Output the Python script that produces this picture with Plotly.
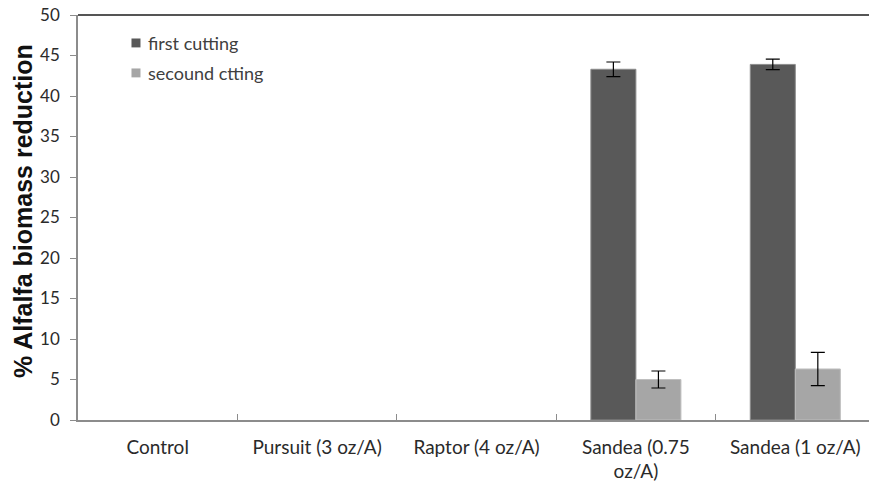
import plotly.graph_objects as go

categories = ["Control", "Pursuit (3 oz/A)", "Raptor (4 oz/A)", "Sandea (0.75<br>oz/A)", "Sandea (1 oz/A)"]
first_cutting = [None, None, None, 43.3, 43.9]
first_err = [0, 0, 0, 0.9, 0.65]
second_cutting = [None, None, None, 5.0, 6.3]
second_err = [0, 0, 0, 1.05, 2.05]
y_ticks = [0, 5, 10, 15, 20, 25, 30, 35, 40, 45, 50]
series_names = ["first cutting", "secound ctting"]
series_colors = ["#595959", "#a6a6a6"]

fig = go.Figure()
fig.add_trace(go.Bar(
    x=categories, y=first_cutting, name=series_names[0],
    marker=dict(color=series_colors[0], line=dict(color="#8c8c8c", width=1)),
    error_y=dict(type="data", array=first_err, color="black", thickness=1.2, width=7),
))
fig.add_trace(go.Bar(
    x=categories, y=second_cutting, name=series_names[1],
    marker=dict(color=series_colors[1], line=dict(color="#bfbfbf", width=1)),
    error_y=dict(type="data", array=second_err, color="black", thickness=1.2, width=7),
))

fig.update_layout(
    width=875, height=489,
    margin=dict(l=78, r=0, t=15, b=69),
    paper_bgcolor="white", plot_bgcolor="white",
    barmode="group", bargap=0.435, bargroupgap=0,
    font=dict(family="Lato, Open Sans, sans-serif", size=17, color="#2a2a2a"),
    showlegend=False,
    xaxis=dict(showline=True, linecolor="#8c8c8c", linewidth=1.5, automargin=False,
               ticks="inside", tickson="boundaries", ticklen=6, tickcolor="#8c8c8c",
               tickfont=dict(size=19), ticklabelstandoff=9,
               mirror=False, showgrid=False),
    yaxis=dict(range=[0, 50], tickvals=y_ticks, showline=True, linecolor="#8c8c8c",
               linewidth=1.5, ticks="outside", ticklen=6, tickcolor="#8c8c8c",
               tickfont=dict(size=17), ticklabelstandoff=7, ticklabeloverflow="allow",
               showgrid=False, zeroline=False, automargin=False),
)
fig.add_shape(type="line", xref="paper", yref="paper", x0=0, x1=1, y0=1, y1=1,
              line=dict(color="#555555", width=2))

# y-axis title as rotated annotation
fig.add_annotation(xref="paper", yref="paper", x=-0.069, y=0.516,
                   text="<b>% Alfalfa biomass reduction</b>", textangle=-90,
                   showarrow=False, xanchor="center", yanchor="middle",
                   font=dict(family="Liberation Sans, Arial", size=25, color="#111111"))

# custom legend (styling only)
leg_y = [0.931, 0.857]
for name, col, yy in zip(series_names, series_colors, leg_y):
    fig.add_shape(type="rect", xref="paper", yref="paper",
                  x0=0.0671, x1=0.0784, y0=yy - 0.011, y1=yy + 0.011,
                  fillcolor=col, line=dict(width=0))
    fig.add_annotation(xref="paper", yref="paper", x=0.0853, y=yy, text=name,
                       showarrow=False, xanchor="left", yanchor="middle",
                       font=dict(size=18, color="#404040"))

fig.write_html("out.html", config={"displayModeBar": False},
               post_script="document.body.style.margin='0';document.body.style.overflow='hidden';")
